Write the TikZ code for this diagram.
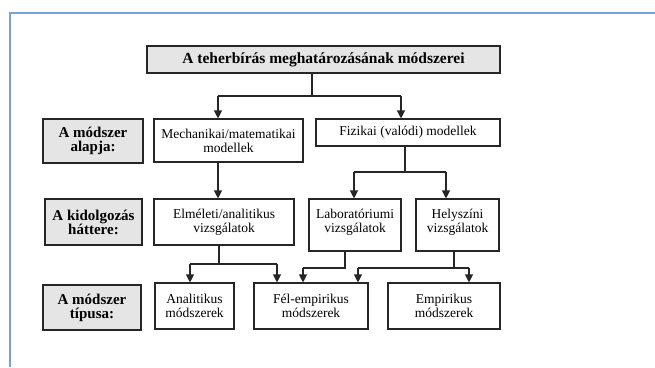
\documentclass[tikz,border=0pt]{standalone}
\usepackage{fontspec}
\setmainfont{Liberation Serif}
\usetikzlibrary{arrows.meta,calc}

\tikzset{
  box/.style={draw=black!85, line width=1.1pt, inner sep=1pt, align=center,
              font=\fontsize{13.5}{14}\selectfont},
  lbox/.style={box, fill=boxgray, font=\fontsize{15}{14}\selectfont\bfseries},
  link/.style={black!85, line width=1.1pt},
  link arrow/.style={link, -{Triangle[length=8pt,width=8pt]}},
}
\colorlet{boxgray}{black!10}
\definecolor{framecol}{RGB}{122,160,218}

\begin{document}
\begin{tikzpicture}[x=1pt, y=-1pt]
    \useasboundingbox (0,0) rectangle (655,367);
    \draw[framecol, line width=1.6pt] (655,13) -- (10,13) -- (10,367);

    % ======== TITLE ========
    \node[lbox, minimum width=353pt, minimum height=27pt,
          font=\fontsize{15.5}{16}\selectfont\bfseries]
      (title) at (323.5,59.5) {A teherbírás meghatározásának módszerei};

    % ======== ROW LABELS ========
    \node[lbox, minimum width=100pt, minimum height=44pt] (lab1) at (93,141)
      {A módszer\\alapja:};
    \node[lbox, minimum width=97pt, minimum height=46pt] (lab2) at (93.5,222)
      {A kidolgozás\\háttere:};
    \node[lbox, minimum width=98pt, minimum height=45pt] (lab3) at (92,307.5)
      {A módszer\\típusa:};

    % ======== ROW 1: models ========
    \node[box, minimum width=149pt, minimum height=43pt] (mech) at (228.5,140.5)
      {Mechanikai/matematikai\\modellek};
    \node[box, minimum width=184pt, minimum height=27pt] (fiz) at (408,132.5)
      {Fizikai (valódi) modellek};

    % ======== ROW 2: investigations ========
    \node[box, minimum width=140pt, minimum height=46pt] (elm) at (224,222)
      {Elméleti/analitikus\\vizsgálatok};
    \node[box, minimum width=92pt, minimum height=52pt] (lab) at (355,225)
      {Laboratóriumi\\vizsgálatok\\[-6pt]};
    \node[box, minimum width=83pt, minimum height=52pt] (hely) at (457.5,225)
      {Helyszíni\\vizsgálatok\\[-6pt]};

    % ======== ROW 3: method types ========
    \node[box, minimum width=79pt, minimum height=46pt] (anal) at (194.5,306)
      {Analitikus\\módszerek};
    \node[box, minimum width=114pt, minimum height=46pt] (fel) at (311,306)
      {Fél-empirikus\\módszerek};
    \node[box, minimum width=112pt, minimum height=46pt] (emp) at (444,306)
      {Empirikus\\módszerek};

    % ======== CONNECTIONS ========
    % title -> models
    \coordinate (t0) at (312,96);
    \coordinate (tl) at (218,96);
    \coordinate (tr) at (401,96);
    \draw[link] (title.south -| t0) -- (t0);
    \draw[link] (tl) -- (tr);
    \draw[link arrow] (tl) -- (tl |- mech.north);
    \draw[link arrow] (tr) -- (tr |- fiz.north);

    % models -> investigations
    \coordinate (m0) at (218,0);
    \draw[link arrow] (mech.south -| m0) -- (elm.north -| m0);
    \coordinate (f0) at (405,172);
    \coordinate (fl) at (354,172);
    \coordinate (fr) at (446,172);
    \draw[link] (fiz.south -| f0) -- (f0);
    \draw[link] (fl) -- (fr);
    \draw[link arrow] (fl) -- (fl |- lab.north);
    \draw[link arrow] (fr) -- (fr |- hely.north);

    % investigations -> method types
    \coordinate (e0) at (219,264);
    \coordinate (el) at (190,264);
    \coordinate (er) at (277,264);
    \draw[link] (elm.south -| e0) -- (e0);
    \draw[link] (el) -- (er);
    \draw[link arrow] (el) -- (el |- anal.north);
    \draw[link arrow] (er) -- (er |- fel.north);

    \coordinate (l0) at (345,268);
    \coordinate (ll) at (303,268);
    \draw[link] (lab.south -| l0) -- (l0) -- (ll);
    \draw[link arrow] (ll) -- (ll |- fel.north);

    \coordinate (h0) at (454,268);
    \coordinate (hl) at (358,268);
    \coordinate (hr) at (469,268);
    \draw[link] (hely.south -| h0) -- (h0);
    \draw[link] (hl) -- (hr);
    \draw[link arrow] (hl) -- (hl |- fel.north);
    \draw[link arrow] (hr) -- (hr |- emp.north);
\end{tikzpicture}
\end{document}
